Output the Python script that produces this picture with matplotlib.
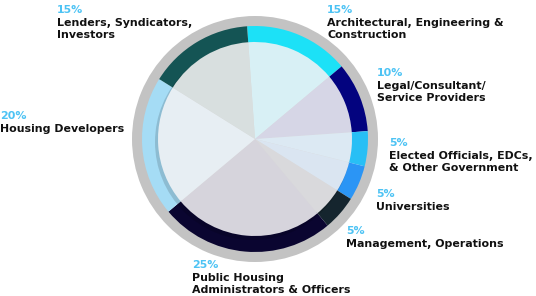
import matplotlib.pyplot as plt
from matplotlib.patches import Circle

# shares, clockwise from just left of 12 o'clock
groups = ['Architectural, Engineering &\nConstruction', 'Legal/Consultant/\nService Providers',
          'Elected Officials, EDCs,\n& Other Government', 'Universities', 'Management, Operations',
          'Public Housing\nAdministrators & Officers', 'Housing Developers',
          'Lenders, Syndicators,\nInvestors']
shares = [15, 10, 5, 5, 5, 25, 20, 15]
ring_colors = ['#1ce1f7', '#03037f', '#28bff5', '#2b95f5', '#15252e', '#0a0530', '#a5dcf5', '#145454']
fill_colors = ['#d8f0f5', '#d6d6e6', '#dce9f3', '#dae5f1', '#d9d9dc', '#d6d4dc', '#e7eef3', '#d8dfdf']

# label anchors in pixels (left x, baseline of the % line, measured from top)
label_pos = [(327, 13), (377, 76), (389, 146), (376, 197), (346, 234), (192, 268), (0, 119), (57, 13)]

W, H = 536, 296
cx, cy = 255, H - 139
fig = plt.figure(figsize=(W / 100, H / 100), dpi=100)
ax = fig.add_axes([0, 0, 1, 1])

# outer grey band
ax.pie([1], colors=['#c3c3c3'], radius=123, center=(cx, cy),
       wedgeprops=dict(width=11, linewidth=0))
# coloured ring
ax.pie(shares, colors=ring_colors, radius=113, center=(cx, cy), startangle=94,
       counterclock=False, wedgeprops=dict(width=17, linewidth=0))
# soft shadow of the inner disc
ax.add_patch(Circle((cx - 2, cy - 3), 98, color='black', alpha=0.14, lw=0))
# pale inner pie
ax.pie(shares, colors=fill_colors, radius=97, center=(cx, cy), startangle=94,
       counterclock=False, wedgeprops=dict(linewidth=0))

ax.set_xlim(0, W)
ax.set_ylim(0, H)
ax.set_aspect('equal')
ax.axis('off')

font = 'DejaVu Sans'
fs = 7.9
for name, val, (x, y) in zip(groups, shares, label_pos):
    ax.text(x, H - y, f'{val}%', color='#4dc3f4', fontsize=fs, fontweight='bold',
            family=font, ha='left', va='baseline')
    for i, line in enumerate(name.split('\n')):
        ax.text(x, H - y - 13 - 12 * i, line, color='#111111', fontsize=fs,
                fontweight='bold', family=font, ha='left', va='baseline')

fig.savefig('out.png', dpi=100)
